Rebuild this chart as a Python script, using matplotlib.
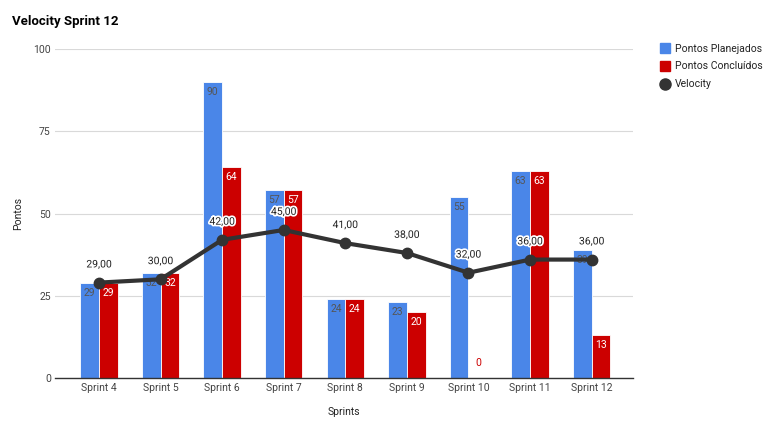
import matplotlib
matplotlib.use('Agg')
import matplotlib.pyplot as plt
import matplotlib.patheffects as pe
from matplotlib.lines import Line2D
import numpy as np

plt.rcParams['font.family'] = ['Roboto', 'DejaVu Sans']

# Data
sprints = ["Sprint 4", "Sprint 5", "Sprint 6", "Sprint 7", "Sprint 8",
           "Sprint 9", "Sprint 10", "Sprint 11", "Sprint 12"]
planejados = [29, 32, 90, 57, 24, 23, 55, 63, 39]
concluidos = [29, 32, 64, 57, 24, 20, 0, 63, 13]
velocity = [29, 30, 42, 45, 41, 38, 32, 36, 36]
y_ticks = [0, 25, 50, 75, 100]

BLUE = '#4a86e8'
RED = '#cc0000'
LINE = '#333333'

fig = plt.figure(figsize=(7.69, 4.30), dpi=100)
ax = fig.add_axes([0.0715, 0.1209, 0.7515, 0.7651])

x = np.arange(len(sprints))
w = 0.305
ax.bar(x - w / 2, planejados, w, color=BLUE, zorder=2, edgecolor='white', linewidth=0.6)
ax.bar(x + w / 2, concluidos, w, color=RED, zorder=2, edgecolor='white', linewidth=0.6)
ax.plot(x, velocity, color=LINE, linewidth=3, marker='o', markersize=7.5, zorder=4)

# Bar labels
for xi, v in zip(x, planejados):
    ax.text(xi - w / 2, v - 1.5, str(v), ha='center', va='top', fontsize=7.5,
            color='#555555', zorder=3)
for xi, v in zip(x, concluidos):
    if v > 5:
        ax.text(xi + w / 2, v - 1.5, str(v), ha='center', va='top', fontsize=7.5,
                color='white', zorder=3)
    else:
        ax.text(xi + w / 2, v + 3, str(v), ha='center', va='bottom', fontsize=7.5,
                color=RED, zorder=3)

# Velocity labels
for xi, v in zip(x, velocity):
    ax.text(xi, v + 4, '%d,00' % v, ha='center', va='bottom', fontsize=7.5,
            color='#222222', zorder=5,
            path_effects=[pe.withStroke(linewidth=2.5, foreground='white')])

ax.set_xlim(-0.714, 8.67)
ax.set_ylim(0, 100)
ax.set_yticks(y_ticks)
ax.set_xticks(x)
ax.set_xticklabels(sprints)
ax.tick_params(axis='both', length=0, labelsize=7.5, colors='#444444')
ax.tick_params(axis='y', pad=3)
ax.grid(axis='y', color='#d9d9d9', linewidth=0.8, zorder=0)
ax.set_axisbelow(True)
for s in ['top', 'right', 'left']:
    ax.spines[s].set_visible(False)
ax.spines['bottom'].set_color('#333333')
ax.spines['bottom'].set_linewidth(1)
ax.spines['bottom'].set_zorder(3)

ax.set_xlabel('Sprints', fontsize=7.5, color='#222222', labelpad=10)
ax.set_ylabel('Pontos', fontsize=7.5, color='#222222', labelpad=7)

fig.text(12 / 769, 1 - 22 / 430, 'Velocity Sprint 12', fontsize=9.5, fontweight='bold',
         color='black', va='center', ha='left')

handles = [
    Line2D([], [], linestyle='none', marker='s', markersize=7, color=BLUE),
    Line2D([], [], linestyle='none', marker='s', markersize=7, color=RED),
    Line2D([], [], linestyle='none', marker='o', markersize=8, color=LINE),
]
labels = ['Pontos Planejados', 'Pontos Concluídos', 'Velocity']
ax.legend(handles, labels, loc='upper left', bbox_to_anchor=(1.03, 1.045), frameon=False,
          fontsize=7.5, handlelength=1.0, labelspacing=0.75,
          handletextpad=0.5, labelcolor='#222222')

fig.savefig('out.png', dpi=100)
